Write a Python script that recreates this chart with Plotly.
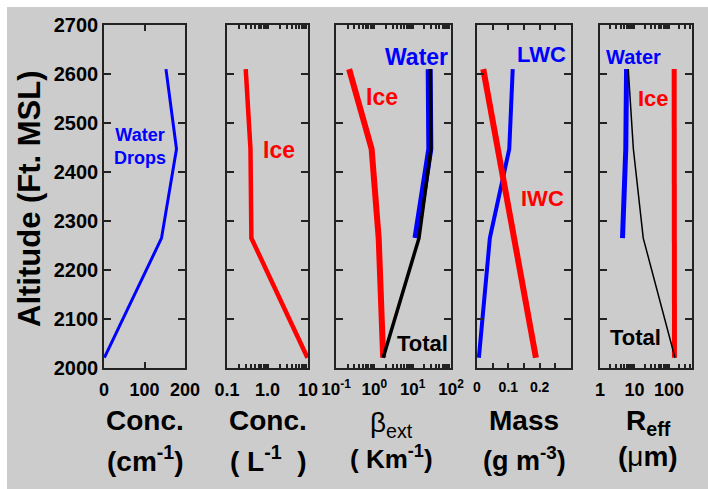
import plotly.graph_objects as go

# ---------------- data ----------------
alt = [2021, 2265, 2447, 2610]
alt_w = [2265, 2447, 2610]

conc_water = [1, 142, 179, 153]          # cm^-1
conc_ice = [9.7, 0.40, 0.38, 0.29]       # L^-1

beta_ice = [1.7, 1.30, 0.85, 0.22]       # km^-1
beta_water = [12.2, 28, 27]
beta_total = [1.7, 14.6, 30, 29]

lwc = [0.006, 0.041, 0.103, 0.114]       # g m^-3
iwc = [0.188, 0.119, 0.067, 0.020]

reff_water = [4.5, 5.6, 5.9]             # um
reff_ice = [145, 143, 142, 142]
reff_total = [150, 18, 9.3, 6.6]

y_ticks = [2000, 2100, 2200, 2300, 2400, 2500, 2600, 2700]
x1_ticks = [0, 100, 200]
x1_text = ["0", "100", "200"]
x2_ticks = [0.1, 1, 10]
x2_text = ["0.1", "1.0", "10"]
x3_ticks = [0.1, 1, 10, 100]
x3_text = ["10<sup>-1</sup>", "10<sup>0</sup>", "10<sup>1</sup>", "10<sup>2</sup>"]
x4_ticks = [0, 0.05, 0.1, 0.15, 0.2, 0.25, 0.3]
x4_text = ["0", "", "0.1", "", "0.2", "", ""]
x5_ticks = [1, 10, 100]
x5_text = ["1", "10", "100"]

W, H = 708, 489
FONT = "Liberation Sans, Arial, sans-serif"
BLUE, RED, BLACK = "#0000ff", "#ff0000", "#000000"
FRAME = "#222222"


def px(x):
    return x / W


def py(y):
    return 1 - y / H


panels = [(104, 185), (227, 308), (336, 451), (477, 571), (600, 692)]
ydom = [py(368), py(25)]


def log_ticks(major, labels, hi):
    """decade ticks with labels plus unlabeled 2..9 sub-ticks"""
    vals, text = [], []
    for v, t in zip(major, labels):
        vals.append(v)
        text.append(t)
        for k in range(2, 10):
            if v * k < hi:
                vals.append(v * k)
                text.append("")
    return vals, text


x2_vals, x2_tt = log_ticks(x2_ticks, x2_text, 10)
x3_vals, x3_tt = log_ticks(x3_ticks, x3_text, 100)
x5_vals, x5_tt = log_ticks(x5_ticks, x5_text, 460)

fig = go.Figure()

# Panel 1
fig.add_trace(go.Scatter(x=conc_water, y=alt, mode="lines",
                         line=dict(color=BLUE, width=3), xaxis="x", yaxis="y"))
# Panel 2
fig.add_trace(go.Scatter(x=conc_ice, y=alt, mode="lines",
                         line=dict(color=RED, width=4.5), xaxis="x2", yaxis="y2"))
# Panel 3
fig.add_trace(go.Scatter(x=beta_ice, y=alt, mode="lines",
                         line=dict(color=RED, width=6), xaxis="x3", yaxis="y3"))
fig.add_trace(go.Scatter(x=beta_water, y=alt_w, mode="lines",
                         line=dict(color=BLUE, width=7), xaxis="x3", yaxis="y3"))
fig.add_trace(go.Scatter(x=beta_total, y=alt, mode="lines",
                         line=dict(color=BLACK, width=3.5), xaxis="x3", yaxis="y3"))
# Panel 4
fig.add_trace(go.Scatter(x=lwc, y=alt, mode="lines",
                         line=dict(color=BLUE, width=4), xaxis="x4", yaxis="y4"))
fig.add_trace(go.Scatter(x=iwc, y=alt, mode="lines",
                         line=dict(color=RED, width=6), xaxis="x4", yaxis="y4"))
# Panel 5
fig.add_trace(go.Scatter(x=reff_water, y=alt_w, mode="lines",
                         line=dict(color=BLUE, width=5), xaxis="x5", yaxis="y5"))
fig.add_trace(go.Scatter(x=reff_ice, y=alt, mode="lines",
                         line=dict(color=RED, width=5), xaxis="x5", yaxis="y5"))
fig.add_trace(go.Scatter(x=reff_total, y=alt, mode="lines",
                         line=dict(color=BLACK, width=1.5), xaxis="x5", yaxis="y5"))

common_axis = dict(showline=True, linecolor=FRAME, linewidth=1.5, mirror="allticks",
                   ticks="inside", tickcolor=FRAME, tickwidth=2, showgrid=False,
                   zeroline=False, automargin=False)

xcfg = [
    dict(type="linear", range=[0, 200], tickvals=x1_ticks, ticktext=x1_text, ticklen=6,
         tickfont=dict(size=18)),
    dict(type="log", range=[-1, 1], tickvals=x2_vals, ticktext=x2_tt, ticklen=4,
         tickfont=dict(size=18)),
    dict(type="log", range=[-1, 2], tickvals=x3_vals, ticktext=x3_tt, ticklen=4,
         tickfont=dict(size=17)),
    dict(type="linear", range=[0, 0.3], tickvals=x4_ticks, ticktext=x4_text, ticklen=5,
         tickfont=dict(size=14)),
    dict(type="log", range=[0, 2.67], tickvals=x5_vals, ticktext=x5_tt, ticklen=4,
         tickfont=dict(size=18)),
]

layout = dict(
    width=W, height=H, margin=dict(l=0, r=0, t=0, b=0, autoexpand=False),
    paper_bgcolor="white", plot_bgcolor="white", showlegend=False,
    font=dict(family=FONT, color="black"),
)

for i, ((x0, x1), xc) in enumerate(zip(panels, xcfg), start=1):
    xname = "xaxis" if i == 1 else f"xaxis{i}"
    yname = "yaxis" if i == 1 else f"yaxis{i}"
    anchor_y = "y" if i == 1 else f"y{i}"
    anchor_x = "x" if i == 1 else f"x{i}"
    xc = dict(xc)
    xc["tickfont"] = dict(family=FONT, color="black", weight="bold", **xc["tickfont"])
    layout[xname] = dict(domain=[px(x0), px(x1)], anchor=anchor_y, ticklabelstandoff=5,
                         **common_axis, **xc)
    layout[yname] = dict(domain=ydom, anchor=anchor_x, range=[2000, 2700], tickvals=y_ticks,
                         ticklen=7, showticklabels=(i == 1),
                         tickfont=dict(family=FONT, size=20, color="black", weight="bold"),
                         **common_axis)

fig.update_layout(**layout)

# grey slide background
fig.add_shape(type="rect", xref="paper", yref="paper", x0=px(7), x1=1, y0=0, y1=py(7),
              fillcolor="#cccccc", line=dict(width=0), layer="below")


def ann(text, x, y, size, color="black", bold=True, angle=0):
    fig.add_annotation(text=text, x=px(x), y=py(y), xref="paper", yref="paper",
                       showarrow=False, xanchor="center", yanchor="middle", textangle=angle,
                       font=dict(family=FONT, size=size, color=color,
                                 weight="bold" if bold else "normal"))


# y title
ann("Altitude (Ft. MSL)", 30, 199, 31, angle=-90)

# in-panel labels
ann("Water<br>Drops", 140, 146, 18, BLUE)
ann("Ice", 279, 150, 23, RED)
ann("Water", 416, 57, 23, BLUE)
ann("Ice", 382, 97, 23, RED)
ann("Total", 422, 343, 22, BLACK)
ann("LWC", 541, 55, 22, BLUE)
ann("IWC", 542, 199, 22, RED)
ann("Water", 633, 57, 20, BLUE)
ann("Ice", 653, 99, 22, RED)
ann("Total", 635, 337, 22, BLACK)

# x titles
ann("Conc.", 145, 420, 28)
ann("(cm<sup>-1</sup>)", 145, 459, 28)
ann("Conc.", 268, 420, 28)
ann("( L<sup>-1</sup>  )", 268, 459, 28)
ann("β<sub>ext</sub>", 391, 424, 28, bold=False)
ann("( Km<sup>-1</sup>)", 391, 457, 26)
ann("Mass", 524, 420, 28)
ann("(g m<sup>-3</sup>)", 524, 459, 27)
ann("R<sub>eff</sub>", 648, 422, 28)
ann("<b>(</b>μ<b>m)</b>", 648, 456, 28, bold=False)

fig.write_html("out.html")
